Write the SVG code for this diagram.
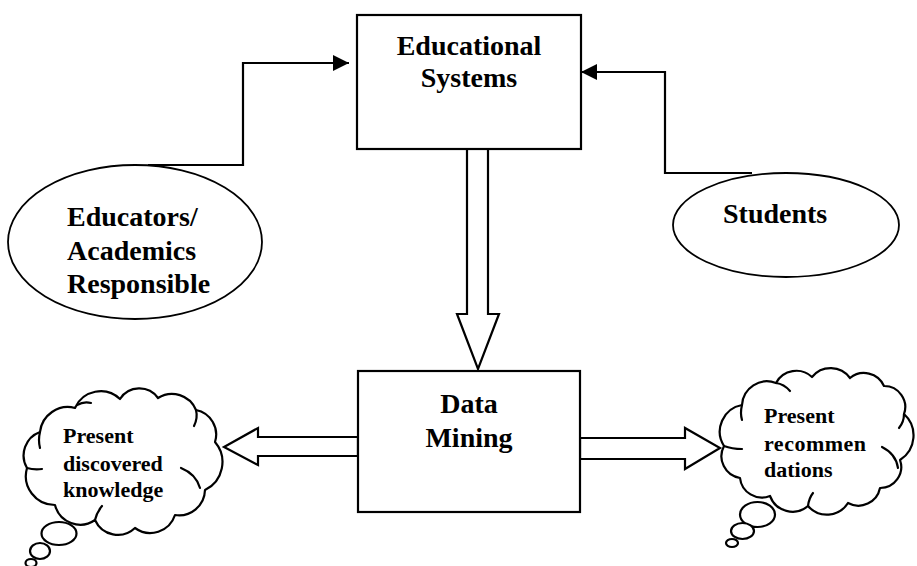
<svg xmlns="http://www.w3.org/2000/svg" width="917" height="566" viewBox="0 0 917 566">
<defs>
<style>
.box{fill:#fff;stroke:#000;stroke-width:2.2}
.ell{fill:#fff;stroke:#000;stroke-width:1.8}
.line{fill:none;stroke:#000;stroke-width:2.2}
.blk{fill:#fff;stroke:#000;stroke-width:2.2;stroke-linejoin:miter}
.cloud{fill:#fff;stroke:#000;stroke-width:2.2;stroke-linejoin:round}
.crease{fill:none;stroke:#000;stroke-width:2.2;stroke-linecap:round}
text{font-family:'Times New Roman',Times,Tinos,'Liberation Serif','DejaVu Serif',serif;font-weight:bold;fill:#000}
.big{font-size:28px}
.small{font-size:22px}
</style>
<marker id="ah" markerWidth="16" markerHeight="16" refX="16" refY="8" orient="auto" markerUnits="userSpaceOnUse">
<path d="M0,0 L16,8 L0,16 Z" fill="#000"/>
</marker>
</defs>

<g id="connectors">
<polyline class="line" points="148,165 243,165 243,63 349,63" marker-end="url(#ah)"/>
<polyline class="line" points="752,173 665,173 665,72 581,72" marker-end="url(#ah)"/>
<polygon class="blk" points="467,149 488,149 488,314 499,314 478,369 457,314 467,314"/>
<polygon class="blk" points="358,437 258,437 258,428 224,447 258,465 258,456 358,456"/>
<polygon class="blk" points="580,438 685,438 685,428 720,448 685,469 685,459 580,459"/>
</g>

<g id="educational-systems">
<rect class="box" x="357" y="15" width="224" height="134"/>
<text class="big" x="469" y="55" text-anchor="middle">Educational</text>
<text class="big" x="469" y="87" text-anchor="middle">Systems</text>
</g>

<g id="data-mining">
<rect class="box" x="358" y="371" width="222" height="141"/>
<text class="big" x="469" y="413" text-anchor="middle">Data</text>
<text class="big" x="469" y="447" text-anchor="middle">Mining</text>
</g>

<g id="educators">
<ellipse class="ell" cx="135" cy="242" rx="127" ry="77"/>
<text class="big" x="67" y="226">Educators/</text>
<text class="big" x="67" y="260">Academics</text>
<text class="big" x="67" y="293">Responsible</text>
</g>

<g id="students">
<ellipse class="ell" cx="786" cy="225" rx="113" ry="52"/>
<text class="big" x="723" y="223">Students</text>
</g>

<g id="cloud-knowledge">
<ellipse class="cloud" cx="59" cy="533.5" rx="17.5" ry="11.5"/>
<ellipse class="cloud" cx="40" cy="551" rx="10" ry="8"/>
<ellipse class="cloud" cx="31" cy="563" rx="5.5" ry="4"/>
<path class="cloud" d="M27,468 A25,25 0 0 1 40,432 A28,28 0 0 1 75,408 A28,28 0 0 1 120,399 A23,23 0 0 1 158,398 A26,26 0 0 1 196,410 A25,25 0 0 1 215,442 A31,31 0 0 1 205,490 A26,26 0 0 1 175,515 A26,26 0 0 1 135,528 A25,25 0 0 1 95,520 A26,26 0 0 1 55,505 A29,29 0 0 1 27,468 Z"/>
<path class="crease" d="M181,468 Q196,474 200,488"/>
<path class="crease" d="M77,405 Q84,401 91,403"/>
<path class="crease" d="M40,432 Q38,440 40,448"/>
<path class="crease" d="M196,410 Q198,418 194,426"/>
<path class="crease" d="M27,468 Q34,470 42,469"/>
<path class="crease" d="M95,520 Q97,512 102,506"/>
<text class="small" x="63" y="443">Present</text>
<text class="small" x="63" y="471">discovered</text>
<text class="small" x="63" y="497">knowledge</text>
</g>

<g id="cloud-recommendations">
<ellipse class="cloud" cx="757.5" cy="514.5" rx="17.5" ry="12.5"/>
<ellipse class="cloud" cx="742.5" cy="531" rx="11.5" ry="8"/>
<ellipse class="cloud" cx="732" cy="543" rx="6" ry="4"/>
<path class="cloud" d="M724,446 A27,27 0 0 1 742,405 A25,25 0 0 1 776,383 A23,23 0 0 1 812,377 A24,24 0 0 1 850,378 A22,22 0 0 1 884,386 A21,21 0 0 1 904,414 A29,29 0 0 1 900,460 A21,21 0 0 1 880,488 A22,22 0 0 1 848,503 A25,25 0 0 1 808,506 A24,24 0 0 1 770,496 A22,22 0 0 1 740,478 A22,22 0 0 1 724,446 Z"/>
<path class="crease" d="M882,447 Q896,454 898,468"/>
<path class="crease" d="M776,383 Q784,384 790,391"/>
<path class="crease" d="M742,405 Q740,413 742,420"/>
<path class="crease" d="M724,446 Q732,449 742,449"/>
<path class="crease" d="M808,506 Q809,498 813,493"/>
<path class="crease" d="M904,414 Q904,422 899,428"/>
<text class="small" x="764" y="423">Present</text>
<text class="small" x="764" y="451" letter-spacing="0.5">recommen</text>
<text class="small" x="764" y="477">dations</text>
</g>
</svg>
